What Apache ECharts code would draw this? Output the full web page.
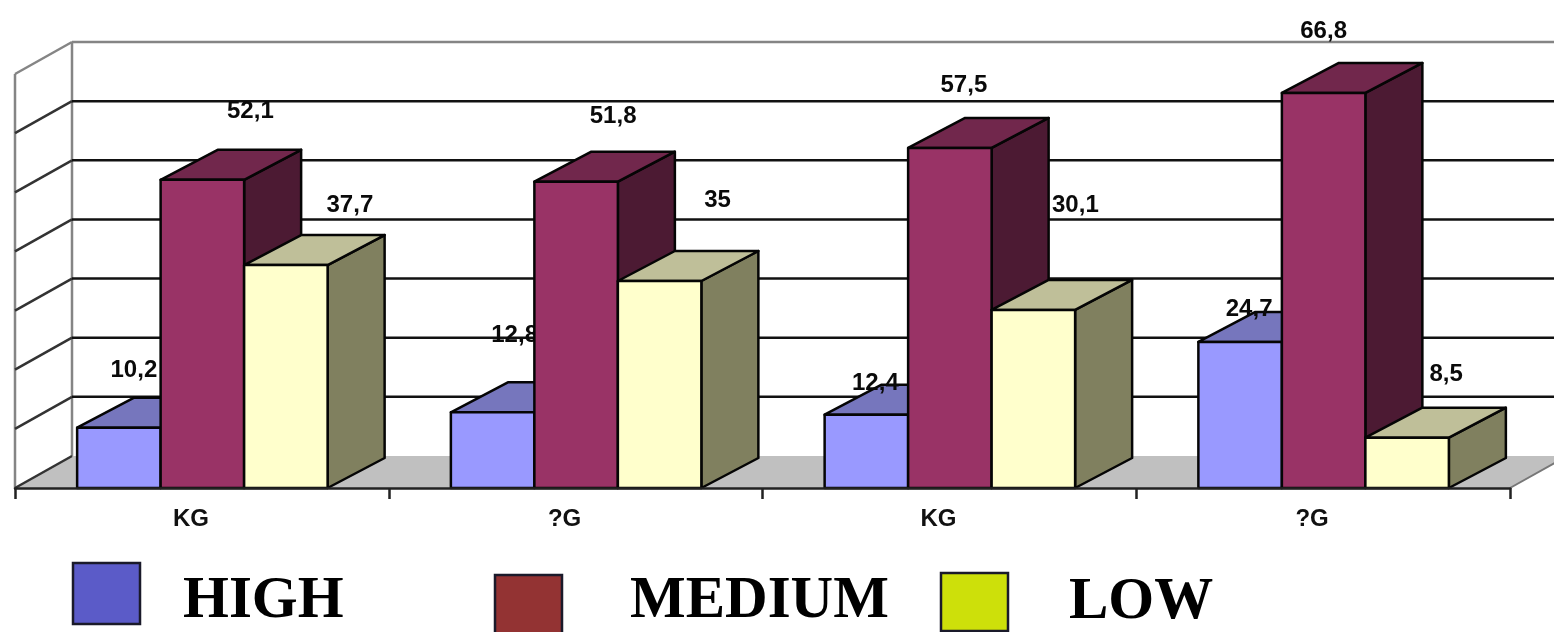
<!DOCTYPE html>
<html>
<head>
<meta charset="utf-8">
<style>
html,body{margin:0;padding:0;background:#fff;overflow:hidden}
#chart{width:1554px;height:632px;filter:blur(0.7px)}
</style>
<script src="https://cdn.jsdelivr.net/npm/echarts@6/dist/echarts.min.js"></script>
</head>
<body>
<div id="chart"></div>
<script>
const categories = ['KG', '?G', 'KG', '?G'];
const seriesNames = ['HIGH', 'MEDIUM', 'LOW'];
const highValues = [10.2, 12.8, 12.4, 24.7];
const mediumValues = [52.1, 51.8, 57.5, 66.8];
const lowValues = [37.7, 35, 30.1, 8.5];
const axisTicks = [0, 10, 20, 30, 40, 50, 60, 70];

// Presentation only
const faceColors = [
  {front: '#9999ff', top: '#7676bd', side: '#4d4d80'},
  {front: '#993366', top: '#71274c', side: '#4c1a33'},
  {front: '#ffffcc', top: '#bfbf99', side: '#80805f'}
];
const labelShifts = [
  [[15, -58], [22, -78], [9, -32], [9, -34]],
  [[48, -69], [37, -66], [14, -64], [0, -63]],
  [[64, -61], [58, -82], [42, -106], [39, -64]]
];
const legendLayout = [
  {box: [73, 563, 67, 61], color: '#5b5bc8', textX: 183, textY: 602},
  {box: [495, 575, 67, 60], color: '#933333', textX: 630, textY: 602},
  {box: [941, 573, 67, 58], color: '#cde00a', textX: 1069, textY: 603}
];
const DEPTH_X = 57, BAR_DEPTH_Y = -30, WALL_DEPTH_Y = -32;
const BAR_RATIO = 0.2234;
const FONT = '"Liberation Sans", Arial, sans-serif';

function renderBackdrop(params, api) {
  const cs = params.coordSys;
  const v = api.value(1);
  const y = api.coord([0, v])[1];
  const left = cs.x, right = cs.x + cs.width;
  const children = [];
  const wall = '#858585';
  if (v === 0) {
    children.push({type: 'polygon', shape: {points: [[left, y], [left + DEPTH_X, y + WALL_DEPTH_Y], [right + DEPTH_X, y + WALL_DEPTH_Y], [right, y]]},
      style: {fill: '#c0c0c0'}});
    children.push({type: 'line', shape: {x1: right, y1: y, x2: right + DEPTH_X, y2: y + WALL_DEPTH_Y}, style: {stroke: '#777', lineWidth: 2}});
    children.push({type: 'line', shape: {x1: left, y1: cs.y, x2: left, y2: y}, style: {stroke: wall, lineWidth: 2.5}});
    children.push({type: 'line', shape: {x1: left + DEPTH_X, y1: cs.y + WALL_DEPTH_Y, x2: left + DEPTH_X, y2: y + WALL_DEPTH_Y}, style: {stroke: wall, lineWidth: 2.5}});
  }
  const lineColor = v === 70 ? wall : '#111';
  children.push({type: 'line', shape: {x1: left, y1: y, x2: left + DEPTH_X, y2: y + WALL_DEPTH_Y}, style: {stroke: v === 70 ? wall : '#333', lineWidth: 2.5}});
  if (v !== 0) {
    children.push({type: 'line', shape: {x1: left + DEPTH_X, y1: y + WALL_DEPTH_Y, x2: right + DEPTH_X, y2: y + WALL_DEPTH_Y}, style: {stroke: lineColor, lineWidth: 2.5}});
  }
  return {type: 'group', children};
}

function renderBar(seriesIdx) {
  return function (params, api) {
    const cat = api.value(0), val = api.value(1);
    const c0 = api.coord([cat, 0]);
    const c1 = api.coord([cat, val]);
    const w = api.size([1, 0])[0] * BAR_RATIO;
    const x0 = c0[0] + (seriesIdx - 1.5) * w + 0.5;
    const x1 = x0 + w;
    const yb = c0[1], yt = c1[1];
    const col = faceColors[seriesIdx];
    const stroke = {stroke: '#050505', lineWidth: 2.5, lineJoin: 'round'};
    const shift = labelShifts[seriesIdx][params.dataIndex];
    const children = [
      {type: 'polygon', shape: {points: [[x1, yb], [x1 + DEPTH_X, yb + BAR_DEPTH_Y], [x1 + DEPTH_X, yt + BAR_DEPTH_Y], [x1, yt]]},
        style: Object.assign({fill: col.side}, stroke)},
      {type: 'polygon', shape: {points: [[x0, yt], [x0 + DEPTH_X, yt + BAR_DEPTH_Y], [x1 + DEPTH_X, yt + BAR_DEPTH_Y], [x1, yt]]},
        style: Object.assign({fill: col.top}, stroke)},
      {type: 'rect', shape: {x: x0, y: yt, width: w, height: yb - yt},
        style: Object.assign({fill: col.front}, stroke)},
      {type: 'text', style: {
        text: String(val).replace('.', ','),
        x: (x0 + x1) / 2 + shift[0], y: yt + shift[1] + 1,
        align: 'center', verticalAlign: 'middle',
        fontFamily: FONT, fontSize: 24, fontWeight: 'bold', fill: '#0a0a0a'
      }}
    ];
    return {type: 'group', children};
  };
}

const valueArrays = [highValues, mediumValues, lowValues];
const barSeries = valueArrays.map(function (vals, i) {
  return {
    type: 'custom', name: seriesNames[i], z: 2 + i, clip: false, silent: true,
    coordinateSystem: 'cartesian2d',
    encode: {x: 0, y: 1},
    renderItem: renderBar(i),
    data: vals.map(function (v, k) { return [k, v]; })
  };
});

const legendGraphics = [];
seriesNames.forEach(function (name, i) {
  const l = legendLayout[i];
  legendGraphics.push({type: 'rect', shape: {x: l.box[0], y: l.box[1], width: l.box[2], height: l.box[3]},
    style: {fill: l.color, stroke: '#1a1a2a', lineWidth: 2.5}});
  legendGraphics.push({type: 'text', style: {text: name, x: l.textX, y: l.textY, verticalAlign: 'middle',
    fontFamily: '"Liberation Serif", serif', fontWeight: 'bold', fontSize: 59, fill: '#000'}});
});

const chart = echarts.init(document.getElementById('chart'), null, {renderer: 'canvas'});
chart.setOption({
  animation: false,
  backgroundColor: '#fff',
  grid: {left: 15, top: 74, width: 1495, bottom: 144, containLabel: false},
  xAxis: {
    type: 'category', data: categories, z: 6,
    axisLine: {show: true, lineStyle: {color: '#222', width: 2.5}},
    axisTick: {show: true, length: 11, lineStyle: {color: '#222', width: 2.5}},
    axisLabel: {color: '#111', fontFamily: FONT, fontSize: 24, fontWeight: 'bold', margin: 19, padding: [0, 22, 0, 0]},
    splitLine: {show: false}
  },
  yAxis: {type: 'value', min: 0, max: 70, interval: 10, show: false},
  tooltip: {show: false},
  legend: {show: false},
  graphic: legendGraphics,
  series: [{
    type: 'custom', name: 'walls', z: 1, clip: false, silent: true,
    coordinateSystem: 'cartesian2d', encode: {x: 0, y: 1},
    renderItem: renderBackdrop,
    data: axisTicks.map(function (t) { return [0, t]; })
  }].concat(barSeries)
});
</script>
</body>
</html>
